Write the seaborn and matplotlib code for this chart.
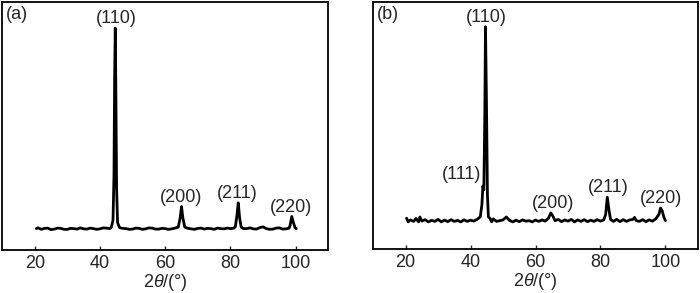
import matplotlib
matplotlib.use("Agg")
import matplotlib.pyplot as plt
import numpy as np
import pandas as pd
import seaborn as sns

# XRD pattern (a): 2theta (deg) and intensity (a.u., % of frame height)
two_theta_a = [20.5, 21, 22, 23, 24, 25, 26, 27, 28, 29, 30, 31, 32, 33, 34, 35, 36, 37, 38,
               39, 40, 41, 42, 43, 43.5, 44.0, 44.3, 44.5, 44.7, 44.9, 45.1, 45.4, 46, 47, 48,
               49, 50, 51, 52, 53, 54, 55, 56, 57, 58, 59, 60, 61, 62, 63, 64, 64.6, 65.0,
               65.4, 66, 67, 68, 69, 70, 71, 72, 73, 74, 75, 76, 77, 78, 79, 80, 81, 81.5, 82.0,
               82.4, 82.8, 83.3, 84, 85, 86, 87, 88, 89, 90, 91, 92, 93, 94, 95, 96, 97, 98,
               98.3, 98.8, 99.3, 99.8, 100.2]
intensity_a = [8.6, 8.9, 8.3, 8.7, 8.8, 8.2, 8.4, 8.8, 8.7, 8.3, 8.3, 8.7, 8.6, 8.4, 8.9, 8.5,
               8.4, 8.8, 8.6, 8.3, 8.5, 8.9, 8.8, 8.6, 9.2, 12, 30, 70, 89.5, 60, 25, 11, 9.0,
               8.7, 8.6, 8.3, 8.4, 8.8, 8.7, 8.3, 8.5, 8.9, 8.8, 8.4, 8.4, 8.7, 8.6, 8.3, 8.5,
               8.8, 9.2, 13, 17.5, 13, 9.2, 8.7, 8.5, 8.3, 8.7, 8.8, 8.4, 8.7, 8.6, 8.3, 8.8,
               8.6, 8.5, 8.8, 8.6, 8.8, 9.3, 14, 19, 13, 9.2, 8.6, 8.6, 8.9, 8.5, 8.4, 9.0, 9.3,
               8.6, 8.3, 8.4, 8.8, 8.9, 8.4, 8.5, 8.8, 10, 13.5, 11, 9.0, 8.6]

# XRD pattern (b)
two_theta_b = [20.3, 20.8, 21.5, 22.5, 23.2, 24, 24.4, 25, 26, 27, 28, 29, 30, 31, 32, 33,
               34, 35, 36, 37, 38, 39, 40, 41, 42, 43, 43.5, 43.8, 44.1, 44.4, 44.6, 44.9,
               45.2, 45.5, 46, 46.5, 47, 48, 49, 50, 51, 52, 53, 54, 55, 56, 57, 58, 59, 60,
               61, 62, 63, 64, 64.7, 65.3, 66, 67, 68, 69, 70, 71, 72, 73, 74, 75, 76, 77,
               78, 79, 80, 81, 81.6, 82.1, 82.6, 83.1, 84, 85, 86, 87, 88, 89, 90, 90.5, 91,
               92, 93, 94, 95, 96, 97, 98, 98.5, 99, 99.5, 100]
intensity_b = [12.5, 11.0, 11.8, 11.2, 12.4, 11.0, 13.0, 11.3, 11.9, 11.0, 11.6, 11.2, 12.0,
               11.0, 11.7, 11.1, 11.9, 11.2, 11.6, 11.0, 11.8, 11.2, 11.7, 11.3, 12.0, 13.0,
               18, 25.5, 24, 55, 90, 60, 22, 13, 12.4, 11.0, 12.2, 11.2, 11.5, 11.8, 13.0,
               11.6, 11.0, 11.7, 11.1, 11.8, 11.3, 11.5, 11.0, 11.7, 11.2, 11.8, 11.3, 12.5,
               14.6, 13.5, 11.5, 12.0, 11.1, 11.8, 11.3, 12.0, 11.0, 11.8, 11.2, 11.9, 11.1,
               11.7, 11.2, 11.9, 11.3, 11.8, 14, 21, 16, 12, 11.2, 12.0, 11.1, 11.9, 11.2,
               11.8, 12.0, 12.8, 11.5, 11.2, 11.9, 11.1, 11.8, 11.3, 12.2, 14.0, 16.6, 15.5,
               13.0, 11.5]

# peak labels: (label, 2theta, intensity)
peaks_a = [("(110)", 44.9, 89.5), ("(200)", 65.0, 17.5), ("(211)", 82.2, 19), ("(220)", 98.6, 13.5)]
peaks_b = [("(110)", 44.9, 90), ("(200)", 65.3, 14.6), ("(211)", 82.4, 21), ("(220)", 98.6, 16.6)]

sns.set_style("ticks")
plt.rcParams['font.family'] = ['Liberation Sans', 'DejaVu Sans']
plt.rcParams['mathtext.fontset'] = 'custom'
plt.rcParams['mathtext.rm'] = 'Liberation Sans'
plt.rcParams['mathtext.it'] = 'Liberation Sans:italic'

fig = plt.figure(figsize=(7, 2.93), dpi=100)
ax_a = fig.add_axes([0.003, 0.147, 0.466, 0.846])
ax_b = fig.add_axes([0.533, 0.150, 0.464, 0.843])

fs = 13
for ax, tt, inten, peaks, tag in [(ax_a, two_theta_a, intensity_a, peaks_a, "(a)"),
                                  (ax_b, two_theta_b, intensity_b, peaks_b, "(b)")]:
    df = pd.DataFrame({"2theta": tt, "I": inten})
    sns.lineplot(data=df, x="2theta", y="I", ax=ax, color="black", linewidth=2.0)
    ax.set_xlim(10, 110)
    ax.set_ylim(0, 100)
    ax.set_xticks([20, 40, 60, 80, 100])
    ax.set_yticks([])
    ax.tick_params(axis='x', direction='in', length=3, width=1, labelsize=fs, pad=3.5)
    ax.set_xlabel(r'$\mathit{2\theta}$/(°)', fontsize=fs, labelpad=0)
    ax.set_ylabel("")
    for s in ax.spines.values():
        s.set_linewidth(1.3)
        s.set_color("black")
    ax.text(0.012, 0.985, tag, transform=ax.transAxes, ha='left', va='top', fontsize=fs)
    for lab, px, py in peaks:
        ax.annotate(lab, (px, py), xytext=(0, 0.5), textcoords='offset points',
                    ha='center', va='bottom', fontsize=fs)

# shoulder peak in (b)
ax_b.annotate("(111)", (43.6, 25.5), xytext=(-1, 2), textcoords='offset points',
              ha='right', va='bottom', fontsize=fs)

fig.savefig("out.png", dpi=100)
